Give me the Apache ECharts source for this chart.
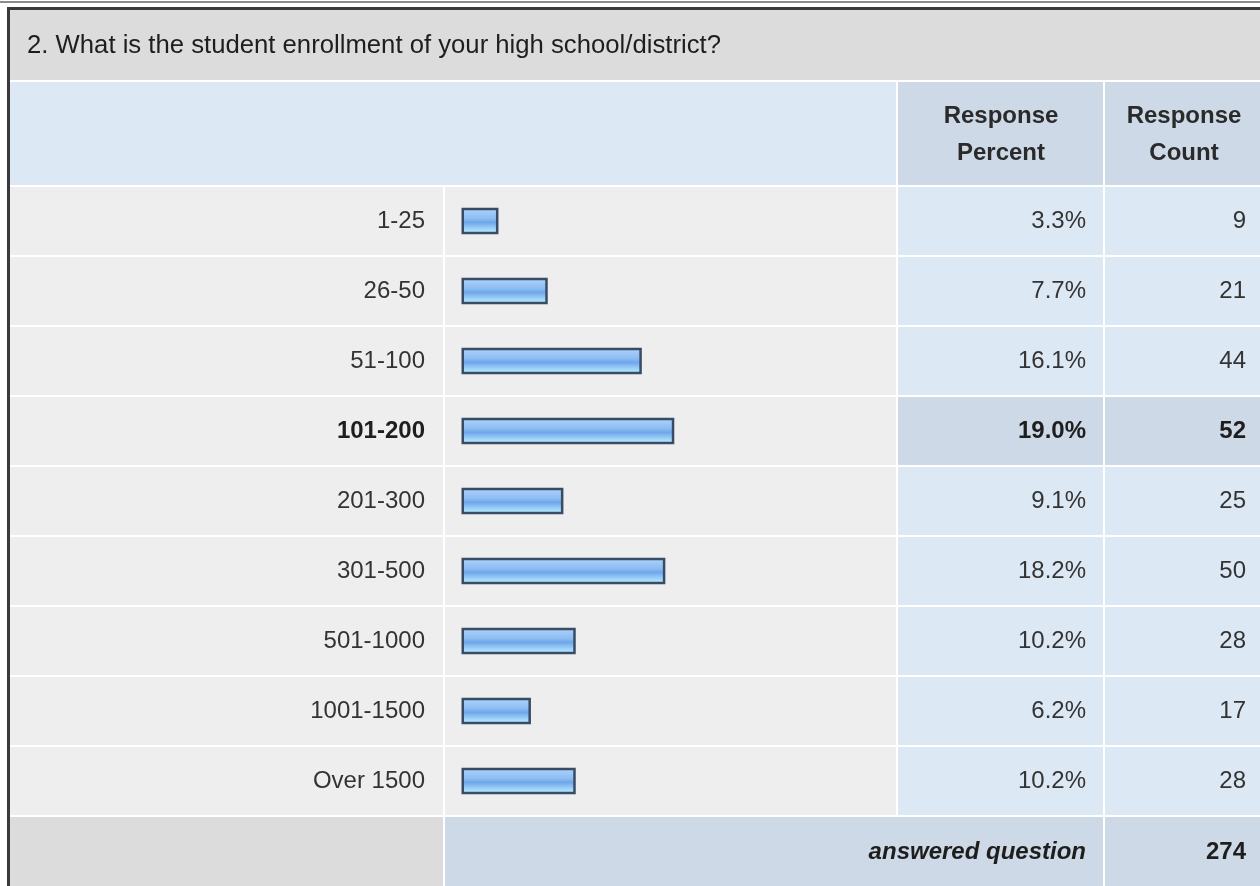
<!DOCTYPE html>
<html>
<head>
<meta charset="utf-8">
<title>student enrollment</title>
<script src="https://cdn.jsdelivr.net/npm/echarts@6/dist/echarts.min.js"></script>
<style>
  html, body { margin: 0; padding: 0; background: #fff; }
  #main { width: 1260px; height: 886px; }
</style>
</head>
<body>
<div id="main"></div>
<script>
// 数据
var question = '2. What is the student enrollment of your high school/district?'
var categories = ['1-25', '26-50', '51-100', '101-200', '201-300', '301-500', '501-1000', '1001-1500', 'Over 1500']
var percents = [3.3, 7.7, 16.1, 19.0, 9.1, 18.2, 10.2, 6.2, 10.2]
var counts = [9, 21, 44, 52, 25, 50, 28, 17, 28]
var answered = 274

var font = '"Liberation Sans", Arial, sans-serif'
// 最大那一行加粗高亮
var hi = percents.indexOf(Math.max.apply(null, percents))

// 表格底色
var rowTop = 186, rowH = 70
var bg = [
  // 外框
  { type: 'rect', shape: { x: 0, y: 1, width: 1260, height: 2 }, style: { fill: '#8c8c8c' } },
  { type: 'rect', shape: { x: 7, y: 7, width: 1253, height: 3 }, style: { fill: '#3a3a3a' } },
  { type: 'rect', shape: { x: 7, y: 7, width: 3, height: 879 }, style: { fill: '#3a3a3a' } },
  // 标题行
  { type: 'rect', shape: { x: 10, y: 10, width: 1250, height: 70 }, style: { fill: '#dcdcdc' } },
  // 表头
  { type: 'rect', shape: { x: 10, y: 82, width: 886, height: 103 }, style: { fill: '#dde8f5' } },
  { type: 'rect', shape: { x: 898, y: 82, width: 205, height: 103 }, style: { fill: '#cdd9e6' } },
  { type: 'rect', shape: { x: 1105, y: 82, width: 155, height: 103 }, style: { fill: '#cdd9e6' } },
  // 数据行
  { type: 'rect', shape: { x: 10, y: 187, width: 433, height: 630 }, style: { fill: '#eeeeee' } },
  { type: 'rect', shape: { x: 445, y: 187, width: 451, height: 630 }, style: { fill: '#eeeeee' } },
  { type: 'rect', shape: { x: 898, y: 187, width: 205, height: 630 }, style: { fill: '#dde8f5' } },
  { type: 'rect', shape: { x: 1105, y: 187, width: 155, height: 630 }, style: { fill: '#dde8f5' } },
  { type: 'rect', shape: { x: 898, y: rowTop + rowH * hi, width: 205, height: rowH }, style: { fill: '#cdd9e6' } },
  { type: 'rect', shape: { x: 1105, y: rowTop + rowH * hi, width: 155, height: rowH }, style: { fill: '#cdd9e6' } },
  // 底部合计
  { type: 'rect', shape: { x: 10, y: 817, width: 433, height: 69 }, style: { fill: '#dcdcdc' } },
  { type: 'rect', shape: { x: 445, y: 817, width: 658, height: 69 }, style: { fill: '#cdd9e6' } },
  { type: 'rect', shape: { x: 1105, y: 817, width: 155, height: 69 }, style: { fill: '#cdd9e6' } }
]
// 白色分隔线
for (var i = 0; i <= categories.length; i++) {
  bg.push({ type: 'rect', shape: { x: 10, y: rowTop + rowH * i - 1, width: 1250, height: 2 }, style: { fill: '#fff' } })
}

var texts = [
  { type: 'text', x: 27, y: 46, style: { text: question, font: '25.7px ' + font, fill: '#1e1e1e', textVerticalAlign: 'middle' } },
  { type: 'text', x: 1001, y: 135, style: { text: 'Response\nPercent', font: 'bold 24px ' + font, lineHeight: 37, fill: '#2a2a2a', textAlign: 'center', textVerticalAlign: 'middle' } },
  { type: 'text', x: 1184, y: 135, style: { text: 'Response\nCount', font: 'bold 24px ' + font, lineHeight: 37, fill: '#2a2a2a', textAlign: 'center', textVerticalAlign: 'middle' } },
  { type: 'text', x: 1086, y: 852, style: { text: 'answered question', font: 'italic bold 24px ' + font, fill: '#1e1e1e', textAlign: 'right', textVerticalAlign: 'middle' } },
  { type: 'text', x: 1246, y: 852, style: { text: String(answered), font: 'bold 24px ' + font, fill: '#1e1e1e', textAlign: 'right', textVerticalAlign: 'middle' } }
]

var rich = {
  n: { fontSize: 24, fontFamily: font, color: '#333' },
  b: { fontSize: 24, fontFamily: font, color: '#1e1e1e', fontWeight: 'bold' }
}
function cell(text, idx) {
  return idx === hi ? '{b|' + text + '}' : '{n|' + text + '}'
}
function catAxis(pos, margin, fmt) {
  return {
    type: 'category',
    data: categories,
    inverse: true,
    position: pos,
    axisLine: { show: false },
    axisTick: { show: false },
    splitLine: { show: false },
    axisLabel: { margin: margin, align: 'right', rich: rich, formatter: fmt }
  }
}

var myChart = echarts.init(document.getElementById('main'))
var option = {
  animation: false,
  backgroundColor: '#fff',
  graphic: bg.concat(texts).map(function (g) { g.silent = true; return g }),
  grid: { left: 461.5, right: 350.5, top: rowTop, height: rowH * categories.length },
  xAxis: { type: 'value', min: 0, max: 40, show: false },
  yAxis: [
    catAxis('left', 36.5, function (v, i) { return cell(v, i) }),
    catAxis('right', 176.5, function (v, i) { return cell(percents[i].toFixed(1) + '%', i) }),
    catAxis('right', 336.5, function (v, i) { return cell(String(counts[i]), i) })
  ],
  series: [{
    type: 'bar',
    data: percents,
    barWidth: 26.5,
    itemStyle: {
      borderColor: '#384c66',
      borderWidth: 2.5,
      color: new echarts.graphic.LinearGradient(0, 0, 0, 1, [
        { offset: 0, color: '#b0d4fc' },
        { offset: 0.4, color: '#8dbdf3' },
        { offset: 0.55, color: '#6fa6ea' },
        { offset: 0.8, color: '#9fd4f8' },
        { offset: 1, color: '#c4f8ff' }
      ])
    }
  }]
}
myChart.setOption(option)
</script>
</body>
</html>
